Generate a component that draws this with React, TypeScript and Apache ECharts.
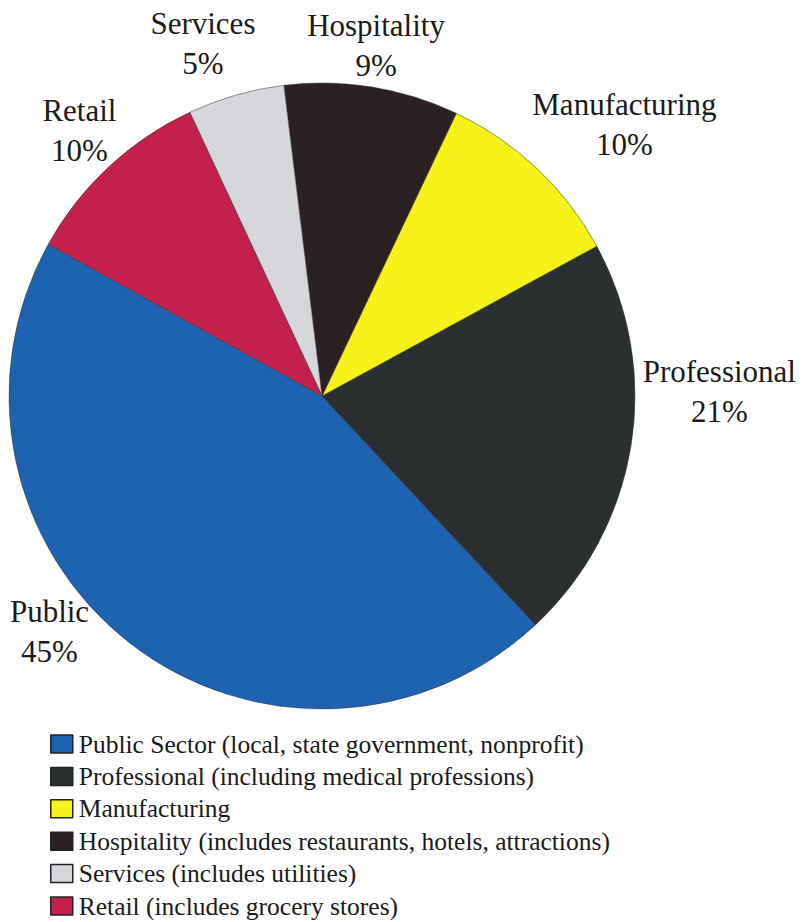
import React, { useEffect, useRef } from "react";
import * as echarts from "echarts";

const shortNames = ["Public", "Professional", "Manufacturing", "Hospitality", "Services", "Retail"];
const legendNames = [
  "Public Sector (local, state government, nonprofit)",
  "Professional (including medical professions)",
  "Manufacturing",
  "Hospitality (includes restaurants, hotels, attractions)",
  "Services (includes utilities)",
  "Retail (includes grocery stores)",
];
const values = [45, 21, 10, 9, 5, 10];
const colors = ["#1d63b2", "#2a302f", "#f7f21a", "#2b2022", "#d6d6db", "#c3204e"];
// label nudges (dx, dy) in pixels
const labelOffsets = [
  [-44, -51],
  [34, -63],
  [48, -8],
  [-9, 8],
  [-14, -4],
  [10, 0],
];

const FONT = "Liberation Serif, serif";

export default function App() {
  const ref = useRef<HTMLDivElement>(null);
  useEffect(() => {
    document.body.style.margin = "0";
    const chart = echarts.init(ref.current!, null, { renderer: "svg" });
    chart.setOption({
      animation: false,
      backgroundColor: "#ffffff",
      legend: {
        orient: "vertical",
        left: 45,
        top: 726,
        height: 200,
        itemWidth: 22,
        itemHeight: 18,
        itemGap: 6.4,
        icon: "rect",
        data: legendNames,
        itemStyle: { borderColor: "#222", borderWidth: 1.5 },
        textStyle: {
          fontFamily: FONT,
          fontSize: 25.5,
          lineHeight: 26,
          color: "#1a1a1a",
          padding: [0, 0, 0, 1],
        },
      },
      series: [
        {
          type: "pie",
          center: [322, 396],
          radius: 313,
          startAngle: 151,
          clockwise: false,
          avoidLabelOverlap: false,
          itemStyle: { borderColor: "#333", borderWidth: 0.5 },
          label: {
            show: true,
            position: "outside",
            fontFamily: FONT,
            fontSize: 31,
            lineHeight: 40,
            color: "#1a1a1a",
            formatter: (p: any) => shortNames[p.dataIndex] + "\n" + values[p.dataIndex] + "%",
          },
          labelLine: { show: false, length: 50, length2: 0 },
          labelLayout: (p: any) => ({
            align: "center",
            verticalAlign: "middle",
            dx: labelOffsets[p.dataIndex][0],
            dy: labelOffsets[p.dataIndex][1],
          }),
          data: legendNames.map((n, i) => ({
            name: n,
            value: values[i],
            itemStyle: { color: colors[i] },
          })),
        },
      ],
    });
    return () => chart.dispose();
  }, []);
  return <div ref={ref} style={{ width: 812, height: 922 }} />;
}
